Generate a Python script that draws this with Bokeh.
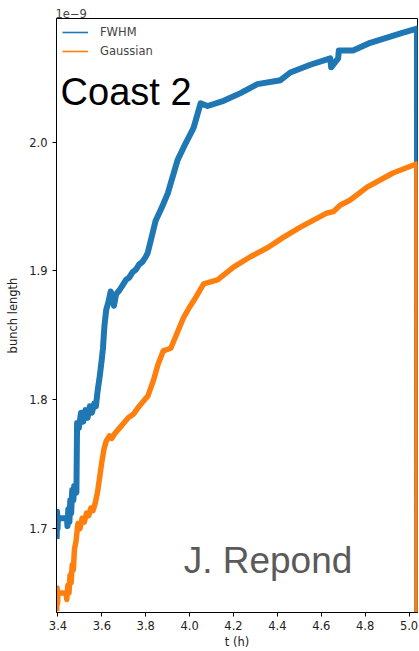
from bokeh.plotting import figure
from bokeh.models import Range1d, Label, FixedTicker, Legend, LegendItem, NumeralTickFormatter
from bokeh.embed import file_html
from bokeh.resources import INLINE

# --- data (bunch length in units of 1e-9 s) ---
t_fwhm = [3.394, 3.396, 3.398, 3.400, 3.441, 3.443, 3.447, 3.452, 3.456, 3.460,
          3.465, 3.470, 3.474, 3.484, 3.487, 3.495, 3.505, 3.515, 3.525, 3.535,
          3.545, 3.555, 3.565, 3.573, 3.580, 3.590, 3.600, 3.605, 3.612, 3.620,
          3.630, 3.640, 3.648, 3.655, 3.665, 3.680, 3.695, 3.710, 3.725, 3.740,
          3.755, 3.770, 3.785, 3.800, 3.809, 3.845, 3.870, 3.900, 3.945, 3.973,
          4.018, 4.050, 4.082, 4.155, 4.232, 4.309, 4.414, 4.459, 4.550, 4.641,
          4.645, 4.677, 4.680, 4.745, 4.823, 4.900, 4.973, 5.036, 5.0375]
v_fwhm = [1.692, 1.713, 1.700, 1.708, 1.708, 1.702, 1.715, 1.705, 1.722, 1.712,
          1.730, 1.722, 1.733, 1.728, 1.782, 1.778, 1.790, 1.783, 1.792, 1.786,
          1.795, 1.790, 1.797, 1.795, 1.806, 1.818, 1.832, 1.840, 1.858, 1.870,
          1.876, 1.884, 1.880, 1.873, 1.882, 1.885, 1.889, 1.893, 1.895, 1.899,
          1.901, 1.905, 1.907, 1.911, 1.914, 1.939, 1.948, 1.960, 1.986, 1.996,
          2.011, 2.030, 2.028, 2.032, 2.038, 2.045, 2.048, 2.054, 2.060, 2.065,
          2.058, 2.065, 2.071, 2.071, 2.077, 2.081, 2.085, 2.088, 1.550]

t_gauss = [3.394, 3.396, 3.398, 3.400, 3.437, 3.440, 3.445, 3.450, 3.455, 3.460,
           3.465, 3.470, 3.475, 3.482, 3.491, 3.500, 3.510, 3.520, 3.530, 3.540,
           3.550, 3.560, 3.570, 3.580, 3.590, 3.600, 3.610, 3.620, 3.635, 3.645,
           3.660, 3.680, 3.700, 3.720, 3.745, 3.770, 3.790, 3.810, 3.835, 3.855,
           3.880, 3.914, 3.973, 4.000, 4.030, 4.064, 4.127, 4.200, 4.277, 4.355,
           4.427, 4.505, 4.582, 4.627, 4.655, 4.686, 4.732, 4.809, 4.927, 5.018,
           5.036, 5.0375]
v_gauss = [1.636, 1.654, 1.642, 1.650, 1.650, 1.645, 1.656, 1.650, 1.664, 1.658,
           1.672, 1.668, 1.684, 1.690, 1.704, 1.700, 1.708, 1.705, 1.712, 1.710,
           1.716, 1.714, 1.720, 1.728, 1.740, 1.752, 1.762, 1.768, 1.772, 1.770,
           1.774, 1.778, 1.782, 1.786, 1.789, 1.795, 1.799, 1.803, 1.815, 1.827,
           1.838, 1.840, 1.864, 1.872, 1.880, 1.890, 1.893, 1.903, 1.911, 1.918,
           1.926, 1.934, 1.941, 1.945, 1.946, 1.951, 1.955, 1.965, 1.976, 1.982,
           1.983, 1.550]

x_ticks = [3.4, 3.6, 3.8, 4.0, 4.2, 4.4, 4.6, 4.8, 5.0]
y_ticks = [1.7, 1.8, 1.9, 2.0]

BLUE = "#1f77b4"
ORANGE = "#ff7f0e"
FONT = "DejaVu Sans"
FS = "11.5px"

p = figure(width=419, height=651, output_backend="svg", toolbar_location=None,
           x_range=Range1d(3.3932, 5.0386), y_range=Range1d(1.6349, 2.0959),
           min_border_left=56, min_border_right=2, min_border_top=18,
           min_border_bottom=39, title="1e\u22129")

p.title.text_font = FONT
p.title.text_font_size = FS
p.title.text_font_style = "normal"
p.title.align = "left"
p.title.offset = -1
p.title.standoff = 2

p.xgrid.visible = False
p.ygrid.visible = False
p.outline_line_color = "black"
p.outline_line_width = 1
p.background_fill_color = "white"
p.border_fill_color = "white"

# thin lines (used for the legend glyphs), covered by the thick bands
r1 = p.line(t_fwhm, v_fwhm, line_color=BLUE, line_width=1.6)
p.line(t_fwhm, v_fwhm, line_color=BLUE, line_width=6, line_join="round")
r2 = p.line(t_gauss, v_gauss, line_color=ORANGE, line_width=1.6)
p.line(t_gauss, v_gauss, line_color=ORANGE, line_width=5.5, line_join="round")

legend = Legend(items=[LegendItem(label="FWHM", renderers=[r1]),
                       LegendItem(label="Gaussian", renderers=[r2])],
                location="top_left")
legend.border_line_color = None
legend.background_fill_alpha = 0.0
legend.label_text_font = FONT
legend.label_text_font_size = FS
legend.glyph_width = 26
legend.glyph_height = 16
legend.label_height = 16
legend.spacing = 3
legend.padding = 5
legend.margin = 6
legend.label_standoff = 12
p.add_layout(legend)

for ax in (p.xaxis, p.yaxis):
    ax.major_label_text_font = FONT
    ax.major_label_text_font_size = FS
    ax.axis_label_text_font = FONT
    ax.axis_label_text_font_size = FS
    ax.axis_label_text_font_style = "normal"
    ax.major_tick_in = 0
    ax.major_tick_out = 4
    ax.minor_tick_line_color = None
    ax.axis_line_color = "black"
    ax.major_tick_line_color = "black"
    ax.major_label_text_color = "#222222"
    ax.axis_label_text_color = "#222222"
    ax.formatter = NumeralTickFormatter(format="0.0")

p.xaxis.ticker = FixedTicker(ticks=x_ticks)
p.yaxis.ticker = FixedTicker(ticks=y_ticks)
p.xaxis.axis_label = "t (h)"
p.yaxis.axis_label = "bunch length"
p.xaxis.major_label_standoff = 4
p.xaxis.axis_label_standoff = 2
p.yaxis.major_label_standoff = 5
p.yaxis.axis_label_standoff = 6

p.add_layout(Label(x=3.4120, y=2.0385, text="Coast 2", text_font="Liberation Sans",
                   text_font_size="38px", text_color="black",
                   text_baseline="alphabetic"))
p.add_layout(Label(x=3.9727, y=1.6753, text="J. Repond", text_font="Liberation Sans",
                   text_font_size="37px", text_color="#5a5a5a",
                   text_baseline="alphabetic"))

open("out.html", "w").write(file_html(p, INLINE))
